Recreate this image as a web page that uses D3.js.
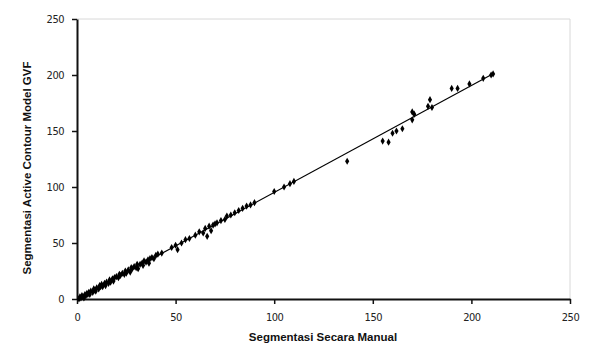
<!DOCTYPE html>
<html>
<head>
<meta charset="utf-8">
<script src="https://cdn.jsdelivr.net/npm/d3@7"></script>
<style>
  html, body { margin: 0; padding: 0; background: #fff; }
  svg { display: block; }
</style>
</head>
<body>
<div id="chart"></div>
<script>
// manual segmentation (x) vs active contour GVF segmentation (y)
var manualVals = [
  1, 1.5, 2, 2.5, 3, 3.5, 4, 4.5, 5, 5.5, 6, 6.5, 7, 8, 8.5, 9, 9.5, 10, 11, 11.5,
  12, 12.5, 13, 14, 14.5, 15, 16, 16.5, 17, 18, 18.5, 19, 20, 21, 21.5, 22, 23, 24,
  24.5, 25, 26, 27, 27.5, 28, 29, 30, 30.5, 31, 32, 33, 33.5, 34, 35, 36, 36.5, 37,
  38, 39, 40, 41, 43,
  48, 50, 51, 53, 55, 57, 60, 62, 64, 65, 66, 67, 68, 69, 70, 71, 73, 75, 76, 78,
  80, 82, 84, 86, 88, 90, 100, 105, 108, 110,
  137, 155, 158, 160, 162, 165, 170, 170, 171, 178, 179, 180, 190, 193, 199, 206, 210, 211
];
var gvfVals = [
  0, 2, 1, 3, 2, 1, 4, 3, 5, 4, 6, 4, 7, 6, 9, 8, 7, 10, 9, 12,
  11, 13, 11, 14, 12, 15, 14, 17, 15, 18, 16, 19, 20, 19, 22, 21, 23, 22,
  25, 23, 26, 24, 28, 27, 29, 28, 31, 27, 31, 32, 30, 34, 33, 35, 32, 36,
  37, 36, 39, 40, 41,
  46, 48, 44, 50, 53, 54, 57, 60, 59, 63, 56, 65, 61, 66, 67, 68, 70, 71, 74, 75,
  77, 79, 81, 83, 84, 86, 96, 100, 103, 105,
  123, 141, 140, 148, 150, 152, 160, 167, 165, 172, 178, 171, 188, 188, 192, 197, 200, 201
];
var xTicks = [0, 50, 100, 150, 200, 250];
var yTicks = [0, 50, 100, 150, 200, 250];

var W = 591, H = 347;
var svg = d3.select('#chart').append('svg').attr('width', W).attr('height', H);

var x = d3.scaleLinear().domain([0, 250]).range([77, 570]);
var y = d3.scaleLinear().domain([0, 250]).range([299, 19]);

var points = manualVals.map(function(v, i) { return { x: v, y: gvfVals[i] }; });

// faint plot frame (top and right)
svg.append('path')
  .attr('d', 'M' + x(0) + ',' + y(250) + 'H' + x(250) + 'V' + y(0))
  .attr('fill', 'none').attr('stroke', '#d8d8d8').attr('stroke-width', 1);

// axes
var xAxis = svg.append('g').attr('transform', 'translate(0,' + y(0) + ')')
  .call(d3.axisBottom(x).tickValues(xTicks).tickSize(5).tickSizeOuter(0).tickPadding(9));
var yAxis = svg.append('g').attr('transform', 'translate(' + x(0) + ',0)')
  .call(d3.axisLeft(y).tickValues(yTicks).tickSize(5).tickSizeOuter(0).tickPadding(8));
[xAxis, yAxis].forEach(function(a) {
  a.select('.domain').attr('stroke', '#111').attr('stroke-width', 2);
  a.selectAll('.tick line').attr('stroke', '#111').attr('stroke-width', 1.5);
  a.selectAll('.tick text').attr('fill', '#222')
    .attr('font-family', 'DejaVu Sans Condensed, DejaVu Sans, sans-serif')
    .attr('font-size', '11px').attr('letter-spacing', '-0.5px');
});

// linear trendline fitted to the data
var mx = d3.mean(points, function(d) { return d.x; });
var my = d3.mean(points, function(d) { return d.y; });
var sxy = d3.sum(points, function(d) { return (d.x - mx) * (d.y - my); });
var sxx = d3.sum(points, function(d) { return (d.x - mx) * (d.x - mx); });
var slope = sxy / sxx, icpt = my - slope * mx;
var x0 = d3.min(manualVals), x1 = d3.max(manualVals);
svg.append('line')
  .attr('x1', x(x0)).attr('y1', y(icpt + slope * x0))
  .attr('x2', x(x1)).attr('y2', y(icpt + slope * x1))
  .attr('stroke', '#000').attr('stroke-width', 1.2);

// diamond markers
svg.append('g').selectAll('path').data(points).enter().append('path')
  .attr('d', d3.symbol(d3.symbolDiamond).size(15))
  .attr('transform', function(d) { return 'translate(' + x(d.x) + ',' + y(d.y) + ')'; })
  .attr('fill', '#000');

// axis titles
svg.append('text').attr('x', 323).attr('y', 341).attr('text-anchor', 'middle')
  .attr('font-family', 'Liberation Sans, Arial, sans-serif').attr('font-size', '11.5px')
  .attr('font-weight', 'bold').attr('fill', '#111')
  .text('Segmentasi Secara Manual');
svg.append('text').attr('transform', 'translate(31,168) rotate(-90)').attr('text-anchor', 'middle')
  .attr('font-family', 'Liberation Sans, Arial, sans-serif').attr('font-size', '11.5px')
  .attr('font-weight', 'bold').attr('fill', '#111')
  .text('Segmentasi Active Contour Model GVF');
</script>
</body>
</html>
